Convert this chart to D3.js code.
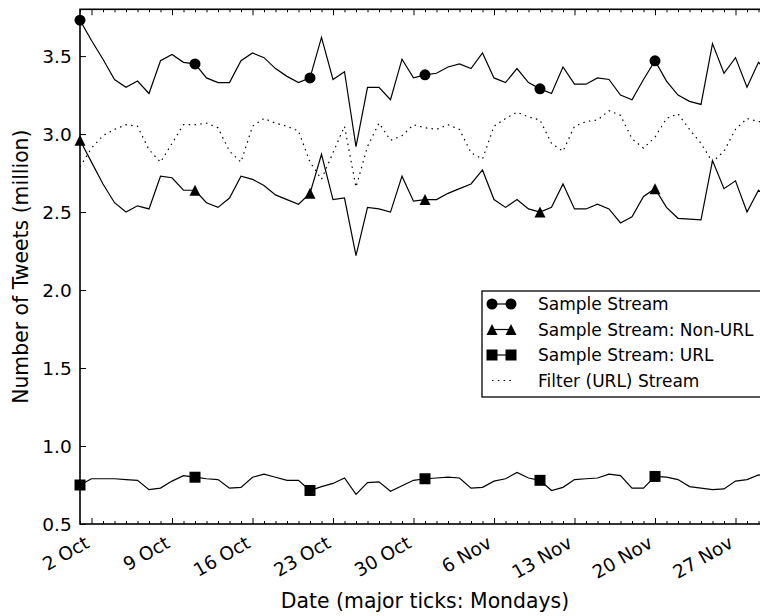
<!DOCTYPE html>
<html>
<head>
<meta charset="utf-8">
<script src="https://cdn.jsdelivr.net/npm/d3@7"></script>
<style>
  body { margin: 0; background: #fff; }
  svg { display: block; font-family: "DejaVu Sans", sans-serif; }
</style>
</head>
<body>
<svg id="chart" width="760" height="616"></svg>
<script>
// Daily tweet volumes (millions), 1 Oct 2017 onward
const startDate = "2017-10-01";
const endDate = "2017-11-30";

const sampleStream = [
  3.73, 3.60, 3.48, 3.35, 3.30, 3.34, 3.26, 3.47, 3.51, 3.46,
  3.45, 3.36, 3.33, 3.33, 3.47, 3.52, 3.49, 3.42, 3.37, 3.33,
  3.36, 3.62, 3.35, 3.40, 2.92, 3.30, 3.30, 3.22, 3.48, 3.36,
  3.38, 3.39, 3.43, 3.45, 3.42, 3.52, 3.36, 3.33, 3.42, 3.33,
  3.29, 3.26, 3.43, 3.32, 3.32, 3.36, 3.35, 3.25, 3.22, 3.35,
  3.47, 3.34, 3.25, 3.21, 3.19, 3.58, 3.39, 3.49, 3.30, 3.46,
  3.38
];
const sampleNonUrl = [
  2.96, 2.82, 2.68, 2.56, 2.50, 2.54, 2.52, 2.73, 2.72, 2.64,
  2.64, 2.56, 2.53, 2.59, 2.73, 2.71, 2.67, 2.61, 2.58, 2.55,
  2.62, 2.87, 2.58, 2.59, 2.22, 2.53, 2.52, 2.50, 2.73, 2.57,
  2.58, 2.58, 2.62, 2.65, 2.68, 2.77, 2.58, 2.53, 2.58, 2.52,
  2.50, 2.53, 2.68, 2.52, 2.52, 2.55, 2.52, 2.43, 2.47, 2.60,
  2.65, 2.53, 2.46, 2.455, 2.45, 2.83, 2.65, 2.70, 2.50, 2.64,
  2.58
];
const sampleUrl = [
  0.75, 0.79, 0.79, 0.79, 0.785, 0.78, 0.72, 0.73, 0.775, 0.81,
  0.80, 0.79, 0.785, 0.73, 0.735, 0.80, 0.82, 0.80, 0.78, 0.78,
  0.715, 0.74, 0.76, 0.795, 0.69, 0.765, 0.77, 0.71, 0.745, 0.78,
  0.79, 0.795, 0.80, 0.795, 0.73, 0.735, 0.775, 0.79, 0.83, 0.795,
  0.78, 0.715, 0.735, 0.785, 0.79, 0.795, 0.82, 0.81, 0.73, 0.73,
  0.805, 0.80, 0.785, 0.74, 0.73, 0.72, 0.725, 0.775, 0.785, 0.815,
  0.80
];
const filterUrl = [
  2.79, 2.91, 2.99, 3.03, 3.06, 3.05, 2.90, 2.82, 2.94, 3.06,
  3.06, 3.07, 3.04, 2.89, 2.82, 3.05, 3.10, 3.07, 3.05, 3.02,
  2.82, 2.71, 2.88, 3.05, 2.66, 2.92, 3.07, 2.96, 2.99, 3.06,
  3.04, 3.03, 3.06, 3.03, 2.88, 2.84, 3.05, 3.10, 3.14, 3.11,
  3.09, 2.94, 2.89, 3.05, 3.08, 3.09, 3.15, 3.12, 2.97, 2.91,
  2.98, 3.10, 3.13, 3.03, 2.94, 2.82, 2.89, 3.03, 3.10, 3.08,
  3.08
];

const xTickLabels = ["2 Oct", "9 Oct", "16 Oct", "23 Oct", "30 Oct", "6 Nov", "13 Nov", "20 Nov", "27 Nov"];
const tickYear = "2017";
const yTicks = [0.5, 1.0, 1.5, 2.0, 2.5, 3.0, 3.5];
const legendLabels = ["Sample Stream", "Sample Stream: Non-URL", "Sample Stream: URL", "Filter (URL) Stream"];
const markEvery = 10;

// ---- layout ----
const plotL = 80, plotR = 770, plotT = 9.3, plotB = 524;
const svg = d3.select("#chart");

const parseDay = d3.utcParse("%Y-%m-%d");
const parseTick = d3.utcParse("%d %b %Y");
const t0 = parseDay(startDate), t1 = parseDay(endDate);
const days = d3.utcDay.range(t0, d3.utcDay.offset(t1, 1));
const majorDates = xTickLabels.map(s => parseTick(s + " " + tickYear));
const majorSet = new Set(majorDates.map(d => +d));
const minorDates = days.filter(d => !majorSet.has(+d));

const x = d3.scaleUtc().domain([t0, t1]).range([plotL, plotR]);
const y = d3.scaleLinear().domain([0.5, 3.8]).range([plotB, plotT]);

function styleAxis(g) {
  g.attr("font-size", null).attr("font-family", null);
  g.select(".domain").remove();
  g.selectAll(".tick line").attr("stroke", "#000").attr("stroke-width", 1);
}

// bottom axis: major (Mondays, labelled) + minor daily ticks, pointing inward
const bx = svg.append("g").attr("transform", `translate(0,${plotB})`)
  .call(d3.axisBottom(x).tickValues(majorDates).tickSize(-6).tickSizeOuter(0)
    .tickFormat((d, i) => xTickLabels[i]))
  .call(styleAxis);
bx.selectAll(".tick text")
  .attr("y", null).attr("dy", null)
  .attr("fill", "#000")
  .attr("font-size", 18.5)
  .attr("text-anchor", "end")
  .attr("transform", "translate(-1.5,22.5) rotate(-30)");
svg.append("g").attr("transform", `translate(0,${plotB})`)
  .call(d3.axisBottom(x).tickValues(minorDates).tickSize(-3).tickSizeOuter(0).tickFormat(""))
  .call(styleAxis);

// top axis mirrors the tick marks
svg.append("g").attr("transform", `translate(0,${plotT})`)
  .call(d3.axisTop(x).tickValues(majorDates).tickSize(-6).tickSizeOuter(0).tickFormat(""))
  .call(styleAxis);
svg.append("g").attr("transform", `translate(0,${plotT})`)
  .call(d3.axisTop(x).tickValues(minorDates).tickSize(-3).tickSizeOuter(0).tickFormat(""))
  .call(styleAxis);

// left axis
const ly = svg.append("g").attr("transform", `translate(${plotL},0)`)
  .call(d3.axisLeft(y).tickValues(yTicks).tickSize(-6).tickPadding(8).tickSizeOuter(0)
    .tickFormat(d3.format(".1f")))
  .call(styleAxis);
ly.selectAll(".tick text")
  .attr("fill", "#000")
  .attr("font-size", 18.5)
  .attr("x", -8.3)
  .attr("dy", "0.36em");
// right axis ticks
svg.append("g").attr("transform", `translate(${plotR},0)`)
  .call(d3.axisRight(y).tickValues(yTicks).tickSize(-6).tickSizeOuter(0).tickFormat(""))
  .call(styleAxis);

// frame
svg.append("rect")
  .attr("x", plotL).attr("y", plotT)
  .attr("width", plotR - plotL).attr("height", plotB - plotT)
  .attr("fill", "none").attr("stroke", "#000").attr("stroke-width", 1.6);

// axis titles
svg.append("text")
  .attr("x", (plotL + plotR) / 2).attr("y", 608)
  .attr("text-anchor", "middle").attr("font-size", 20.4)
  .text("Date (major ticks: Mondays)");
svg.append("text")
  .attr("transform", `translate(28,${(plotT + plotB) / 2}) rotate(-90)`)
  .attr("text-anchor", "middle").attr("font-size", 20.4)
  .text("Number of Tweets (million)");

// ---- series ----
const line = d3.line().x((d, i) => x(days[i])).y(d => y(d));
const R = 5.5;
const markerPaths = {
  circle: `M${R},0A${R},${R} 0 1,1 ${-R},0A${R},${R} 0 1,1 ${R},0Z`,
  triangle: `M0,${-R}L${R},${R}L${-R},${R}Z`,
  square: `M${-R},${-R}H${R}V${R}H${-R}Z`
};

const series = [
  { values: sampleStream, marker: "circle", dash: null },
  { values: sampleNonUrl, marker: "triangle", dash: null },
  { values: sampleUrl, marker: "square", dash: null },
  { values: filterUrl, marker: null, dash: "1.5,4.3" }
];

svg.append("clipPath").attr("id", "plot-clip")
  .append("rect").attr("x", plotL).attr("y", plotT)
  .attr("width", plotR - plotL).attr("height", plotB - plotT);

const plot = svg.append("g");
series.forEach(s => {
  plot.append("path")
    .datum(s.values)
    .attr("clip-path", "url(#plot-clip)")
    .attr("fill", "none")
    .attr("stroke", "#000")
    .attr("stroke-width", 1.2)
    .attr("stroke-dasharray", s.dash)
    .attr("d", line);
  if (s.marker) {
    plot.selectAll(null)
      .data(s.values.map((v, i) => ({ v, i })).filter(d => d.i % markEvery === 0))
      .join("path")
      .attr("transform", d => `translate(${x(days[d.i])},${y(d.v)})`)
      .attr("d", markerPaths[s.marker])
      .attr("fill", "#000");
  }
});

// ---- legend ----
const lg = svg.append("g");
lg.append("rect")
  .attr("x", 482).attr("y", 291).attr("width", 282).attr("height", 106)
  .attr("fill", "#fff").attr("stroke", "#000").attr("stroke-width", 1.3);
const rowY = [304, 329.5, 355, 380.5];
series.forEach((s, i) => {
  const yy = rowY[i];
  lg.append("line")
    .attr("x1", 492).attr("x2", 511).attr("y1", yy).attr("y2", yy)
    .attr("stroke", "#000").attr("stroke-width", 1.2)
    .attr("stroke-dasharray", s.dash);
  if (s.marker) {
    [492, 511].forEach(mx => {
      lg.append("path")
        .attr("transform", `translate(${mx},${yy})`)
        .attr("d", markerPaths[s.marker])
        .attr("fill", "#000");
    });
  }
  lg.append("text")
    .attr("x", 538).attr("y", yy).attr("dy", "0.36em")
    .attr("font-size", 17)
    .text(legendLabels[i]);
});
</script>
</body>
</html>
